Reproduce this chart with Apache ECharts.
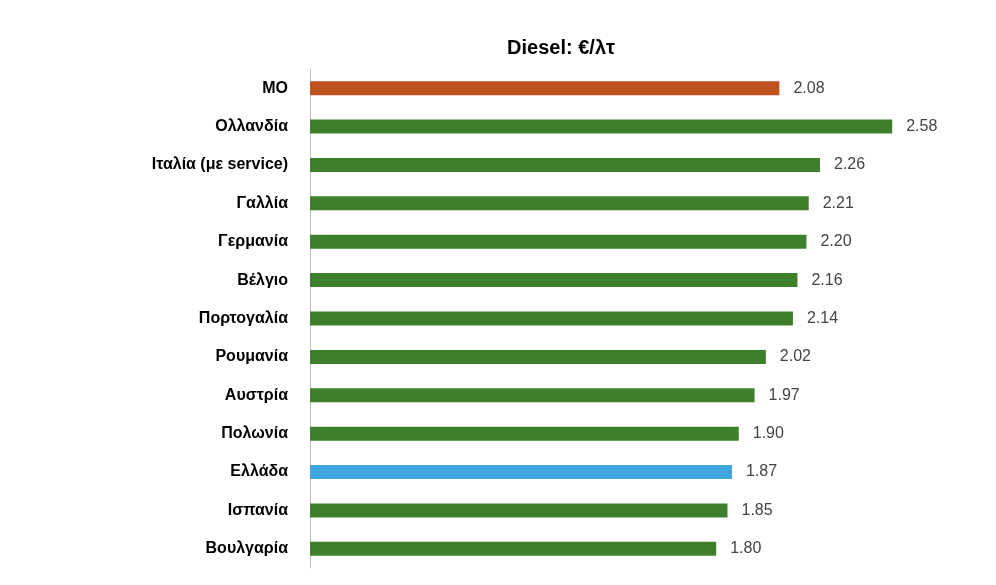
<!DOCTYPE html>
<html><head><meta charset="utf-8">
<script src="https://cdn.jsdelivr.net/npm/echarts@6/dist/echarts.min.js"></script>
<style>html,body{margin:0;padding:0;background:#fff}#c{width:996px;height:585px}</style>
</head><body><div id="c"></div>
<script>
const categories = ["ΜΟ","Ολλανδία","Ιταλία (με service)","Γαλλία","Γερμανία","Βέλγιο","Πορτογαλία","Ρουμανία","Αυστρία","Πολωνία","Ελλάδα","Ισπανία","Βουλγαρία"];
const values = [2.08,2.58,2.26,2.21,2.20,2.16,2.14,2.02,1.97,1.90,1.87,1.85,1.80];
const colors = {"ΜΟ":"#c0521f","Ελλάδα":"#3ea6e0"};
const chart = echarts.init(document.getElementById('c'));
chart.setOption({
  animation:false,
  title:{text:"Diesel: €/λτ",left:556,top:33,textAlign:'center',textStyle:{fontFamily:'Liberation Sans',fontSize:20,fontWeight:'bold',color:'#000'}},
  grid:{left:310,top:69,width:677,height:499},
  xAxis:{type:'value',min:0,max:3,show:false},
  yAxis:{type:'category',inverse:true,data:categories,
    axisLine:{lineStyle:{color:'#bfbfbf'}},axisTick:{show:false},
    axisLabel:{margin:22,fontFamily:'Liberation Sans',fontSize:16,fontWeight:'bold',color:'#000'}},
  series:[{type:'bar',barWidth:14,
    data:values.map((v,i)=>({value:v,itemStyle:{color:colors[categories[i]]||'#3d7f2a'}})),
    label:{show:true,position:'right',distance:14,formatter:p=>p.value.toFixed(2),fontFamily:'Liberation Sans',fontSize:16,color:'#444'}}]
});
</script></body></html>
